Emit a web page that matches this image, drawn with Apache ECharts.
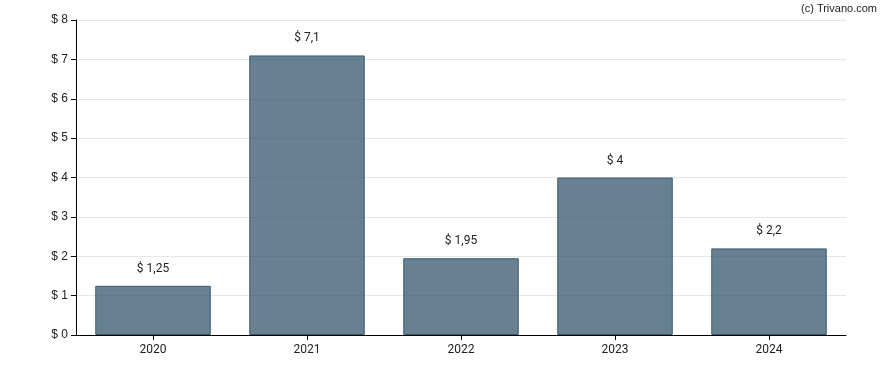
<!DOCTYPE html>
<html><head><meta charset="utf-8">
<script src="https://cdn.jsdelivr.net/npm/echarts@6/dist/echarts.min.js"></script>
<style>html,body{margin:0;padding:0;background:#fff}#c{width:888px;height:370px}</style>
</head><body><div id="c"></div>
<script>
const categories = ['2020','2021','2022','2023','2024'];
const values = [1.25, 7.1, 1.95, 4, 2.2];
const yTicks = [0,1,2,3,4,5,6,7,8];

const chart = echarts.init(document.getElementById('c'), null, {renderer:'canvas'});
chart.setOption({
  animation:false,
  graphic:[{type:'text', right:11, top:3, style:{text:'(c) Trivano.com', font:'11px "Liberation Sans", Arial, sans-serif', fill:'#222'}}],
  grid:{left:76, right:42, top:20, bottom:35},
  xAxis:{type:'category', data:categories,
    axisLine:{lineStyle:{color:'#000', width:1}},
    axisTick:{show:true, alignWithLabel:true, length:5, lineStyle:{color:'#000'}},
    axisLabel:{color:'#222', fontSize:12, fontFamily:'Roboto, sans-serif', margin:9}},
  yAxis:{type:'value', min:0, max:8, interval:1,
    axisLine:{show:true, lineStyle:{color:'#000', width:1}},
    axisTick:{show:true, length:5, lineStyle:{color:'#000'}},
    splitLine:{lineStyle:{color:'#e6e6e6'}},
    axisLabel:{color:'#222', fontSize:12, fontFamily:'"Liberation Sans", Arial, sans-serif', margin:8,
      formatter:v=>'$ '+v}},
  series:[{type:'bar', data:values, barWidth:'75%',
    itemStyle:{color:'rgba(46,82,106,0.73)', borderColor:'#3f5a6e', borderWidth:1},
    label:{show:true, position:'top', distance:11, color:'#222', fontSize:12, fontFamily:'Roboto, sans-serif',
      formatter:p=>'$ '+String(p.value).replace('.',',')}}]
});
</script></body></html>
